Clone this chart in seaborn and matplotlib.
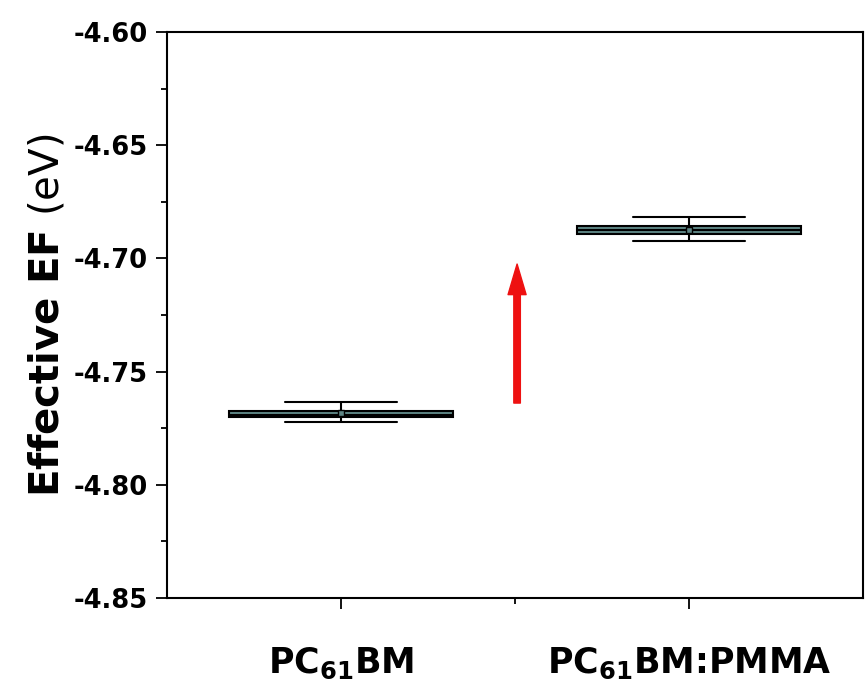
import numpy as np
import pandas as pd
import matplotlib
matplotlib.use("Agg")
import matplotlib.pyplot as plt
import seaborn as sns

# values (eV): low whisker, Q1, median, Q3, high whisker
groups = ["PC61BM", "PC61BM:PMMA"]
tick_labels = [r"PC$_{\mathbf{61}}$BM", r"PC$_{\mathbf{61}}$BM:PMMA"]
pcbm_vals = [-4.7723, -4.7702, -4.7690, -4.7673, -4.7636]
pcbm_pmma_vals = [-4.6923, -4.6894, -4.6875, -4.6857, -4.6816]
arrow_start = -4.7639
arrow_end = -4.7025
y_ticks = [-4.60, -4.65, -4.70, -4.75, -4.80, -4.85]

df = pd.DataFrame({
    "group": [groups[0]] * len(pcbm_vals) + [groups[1]] * len(pcbm_pmma_vals),
    "EF": pcbm_vals + pcbm_pmma_vals,
})

sns.set_style("ticks")
plt.rcParams["font.family"] = ["DejaVu Sans"]
plt.rcParams["mathtext.fontset"] = "dejavusans"
plt.rcParams["axes.unicode_minus"] = False
plt.rcParams["text.color"] = "black"
plt.rcParams["axes.labelcolor"] = "black"
plt.rcParams["xtick.color"] = "black"
plt.rcParams["ytick.color"] = "black"

box_color = "#5e8584"

fig = plt.figure(figsize=(8.65, 6.89), dpi=100)
ax = fig.add_axes([167 / 865, 1 - 598 / 689, 696 / 865, 566 / 689])

sns.boxplot(data=df, x="group", y="EF", ax=ax, color=box_color, saturation=1,
            width=0.645, whis=(0, 100), linecolor="black", linewidth=1.5,
            showmeans=True,
            meanprops=dict(marker="s", markersize=4, markerfacecolor=box_color,
                           markeredgecolor="black", markeredgewidth=1))

# red arrow between the two groups
ax.annotate("", xy=(0.506, arrow_end), xytext=(0.506, arrow_start),
            arrowprops=dict(arrowstyle="simple,head_length=2.2,head_width=1.3,tail_width=0.47",
                            color="#ee1111", mutation_scale=10, shrinkA=0, shrinkB=0))

ax.set_xlim(-0.5, 1.5)
ax.set_ylim(-4.85, -4.60)
ax.set_yticks(y_ticks)
ax.set_yticklabels([f"{v:.2f}" for v in y_ticks])
ax.set_yticks(np.arange(-4.85, -4.599, 0.025), minor=True)
ax.set_xticks([0, 1])
ax.set_xticklabels(tick_labels)
ax.set_xticks([0.5], minor=True)

for s in ["left", "top", "bottom", "right"]:
    ax.spines[s].set_visible(True)
    ax.spines[s].set_linewidth(1.5)
    ax.spines[s].set_color("black")

ax.tick_params(axis="both", which="major", length=8, width=1.3, color="black")
ax.tick_params(axis="both", which="minor", length=4, width=1.3, color="black")
ax.tick_params(axis="y", which="major", labelsize=18.5, pad=6)
ax.tick_params(axis="x", which="major", labelsize=25, pad=26)
for lab in ax.get_xticklabels() + ax.get_yticklabels():
    lab.set_fontweight("bold")
    lab.set_color("black")

ax.set_xlabel("")
ax.set_ylabel(r"$\mathbf{Effective\ EF}$ (eV)", fontsize=29, labelpad=4, color="black")

fig.savefig("out.png", dpi=100)
